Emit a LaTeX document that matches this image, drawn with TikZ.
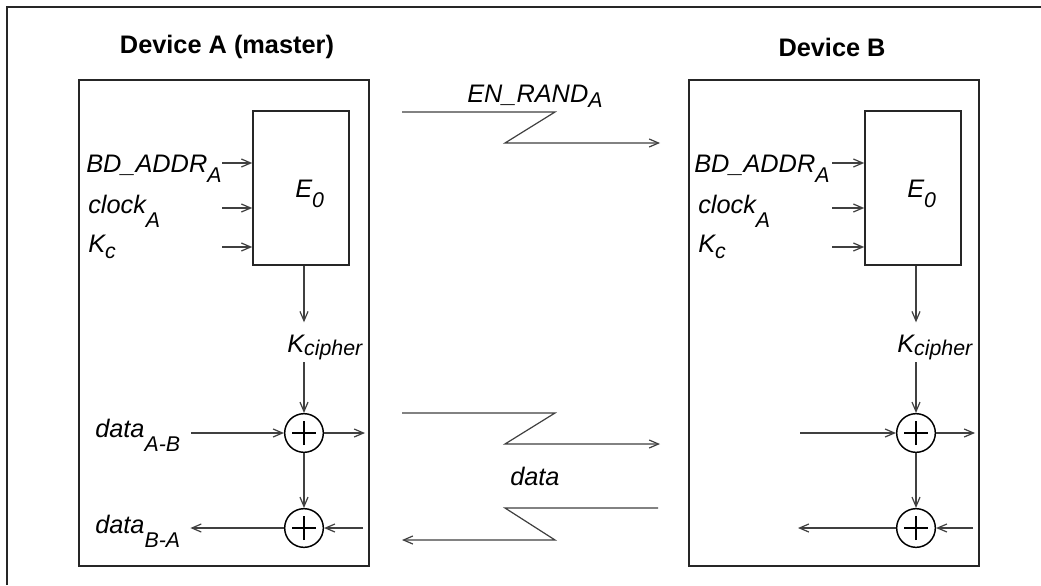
\documentclass[tikz,border=0pt]{standalone}
\usepackage{fontspec}
\setmainfont{Liberation Sans}
\usetikzlibrary{arrows.meta,fit}
\newcommand\sbx[2]{\raisebox{-#1}{\fontsize{16}{18}\selectfont #2}}
\begin{document}
\begin{tikzpicture}[x=0.75pt,y=-0.75pt,
  every node/.style={font=\fontsize{19}{22}\selectfont\itshape, inner sep=0pt},
  title/.style={font=\fontsize{19}{22}\selectfont\bfseries},
  box/.style={draw=black!85, line width=1.2pt, inner sep=0pt},
  sig/.style={draw=black!75, line width=0.9pt, -{Straight Barb[length=7pt,width=6pt]}},
  xorc/.style={circle, draw, line width=1.1pt, minimum size=29pt, inner sep=0pt,
    path picture={\draw[line width=1.1pt]
      ([xshift=-9pt]path picture bounding box.center) -- ([xshift=9pt]path picture bounding box.center)
      ([yshift=-9pt]path picture bounding box.center) -- ([yshift=9pt]path picture bounding box.center);}},
  radio/.style={draw=black!75, line width=0.9pt, -{Straight Barb[length=7pt,width=6pt]}}
]
\useasboundingbox (0,0) rectangle (1041,585);
\fill[white] (0,0) rectangle (1041,585);
\draw[line width=1.3pt, black!85] (7,585) -- (7,7) -- (1041,7);

% titles
\node[title] (tA) at (227,47) {Device A (master)};
\node[title] (tB) at (832,47) {Device B};

% device boxes
\node[box, fit={(79,80) (369,566)}] (devA) {};
\node[box, fit={(689,80) (979,566)}] (devB) {};

% E0 boxes
\node[box, fit={(253,111) (349,265)}] (eA) {};
\node[box, fit={(865,111) (961,265)}] (eB) {};
\node[anchor=base west] (eAl) at (295,197) {E\sbx{8pt}{0}};
\node[anchor=base west] (eBl) at (907,197) {E\sbx{8pt}{0}};

% inputs, device A
\node[anchor=base west] (bdA) at (86,172) {BD\_ADDR\sbx{7.5pt}{A}};
\node[anchor=base west] (clA) at (88,213) {clock\sbx{10.5pt}{A}};
\node[anchor=base west] (kcA) at (88,252) {K\sbx{4.5pt}{c}};
\coordinate (iA1) at (222,163);
\coordinate (iA2) at (222,208);
\coordinate (iA3) at (222,247);
\draw[sig] (iA1) -- (iA1 -| eA.west);
\draw[sig] (iA2) -- (iA2 -| eA.west);
\draw[sig] (iA3) -- (iA3 -| eA.west);

% inputs, device B
\node[anchor=base west] (bdB) at (694,172) {BD\_ADDR\sbx{7.5pt}{A}};
\node[anchor=base west] (clB) at (698,213) {clock\sbx{10.5pt}{A}};
\node[anchor=base west] (kcB) at (698,252) {K\sbx{4.5pt}{c}};
\coordinate (iB1) at (832,163);
\coordinate (iB2) at (832,208);
\coordinate (iB3) at (832,247);
\draw[sig] (iB1) -- (iB1 -| eB.west);
\draw[sig] (iB2) -- (iB2 -| eB.west);
\draw[sig] (iB3) -- (iB3 -| eB.west);

% K cipher
\node[anchor=base west] (kA) at (287,352) {K\sbx{2.25pt}{cipher}};
\node[anchor=base west] (kB) at (897,352) {K\sbx{2.25pt}{cipher}};

% xor circles
\node[xorc] (xA1) at (304,433) {};
\node[xorc] (xA2) at (304,528) {};
\node[xorc] (xB1) at (916,433) {};
\node[xorc] (xB2) at (916,528) {};

% data labels
\node[anchor=base west] (dAB) at (95,437) {data\sbx{11pt}{A-B}};
\node[anchor=base west] (dBA) at (95,533) {data\sbx{10.5pt}{B-A}};

% device A flow
\draw[sig, shorten >=9pt] (xA1 |- eA.south) -- (xA1 |- kA.north);
\draw[sig, shorten <=2pt] (xA1 |- kA.south) -- (xA1.north);
\draw[sig, shorten <=8pt] (dAB.east |- xA1) -- (xA1.west);
\coordinate (oA) at (365,433);
\draw[sig] (xA1.east) -- (oA);
\draw[sig] (xA1.south) -- (xA2.north);
\coordinate (cA) at (363,528);
\draw[sig] (cA) -- (xA2.east);
\draw[sig, shorten >=7.5pt] (xA2.west) -- (dBA.east |- xA2);

% device B flow
\draw[sig, shorten >=9pt] (xB1 |- eB.south) -- (xB1 |- kB.north);
\draw[sig, shorten <=2pt] (xB1 |- kB.south) -- (xB1.north);
\coordinate (iB) at (800,433);
\draw[sig] (iB) -- (xB1.west);
\coordinate (oB) at (975,433);
\draw[sig] (xB1.east) -- (oB);
\draw[sig] (xB1.south) -- (xB2.north);
\coordinate (lB) at (798,528);
\draw[sig] (xB2.west) -- (lB);
\coordinate (cB) at (973,528);
\draw[sig] (cB) -- (xB2.east);

% radio links
\node[anchor=base west] (enr) at (467,102) {EN\_RAND\sbx{3.75pt}{A}};
\node[anchor=base west] (dmid) at (510,485) {data};
\coordinate (r1a) at (402,112);
\coordinate (r1b) at (555,112);
\coordinate (r1c) at (505,143);
\coordinate (r1d) at (660,143);
\draw[radio] (r1a) -- (r1b) -- (r1c) -- (r1d);
\coordinate (r2a) at (402,413);
\coordinate (r2b) at (555,413);
\coordinate (r2c) at (505,444);
\coordinate (r2d) at (660,444);
\draw[radio] (r2a) -- (r2b) -- (r2c) -- (r2d);
\coordinate (r3a) at (658,508);
\coordinate (r3b) at (505,508);
\coordinate (r3c) at (555,540);
\coordinate (r3d) at (402,540);
\draw[radio] (r3a) -- (r3b) -- (r3c) -- (r3d);
\end{tikzpicture}
\end{document}
